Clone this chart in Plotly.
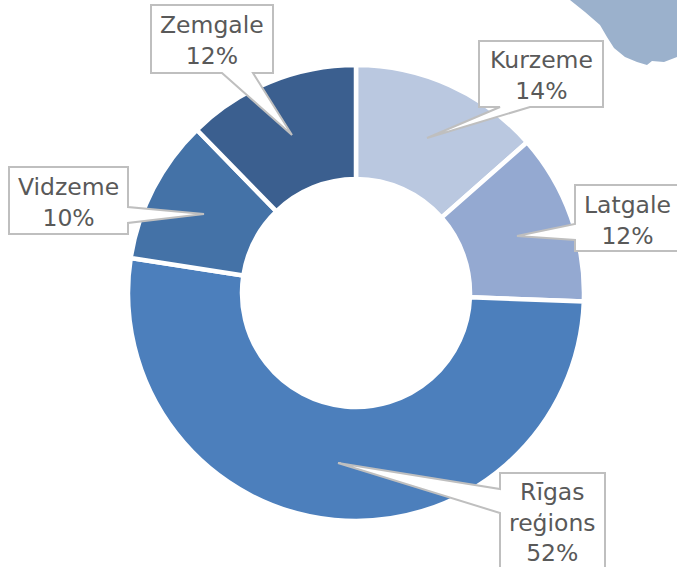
import plotly.graph_objects as go

W, H = 677, 567

categories = ["Kurzeme", "Latgale", "Rīgas<br>reģions", "Vidzeme", "Zemgale"]
shares = [13.5, 12.1, 51.85, 10.25, 12.3]
share_labels = ["14%", "12%", "52%", "10%", "12%"]
colors = ["#BAC8E0", "#94A9D1", "#4C7FBC", "#4472A7", "#3B5F8F"]

# label call-outs: outline in page pixels, and label centre
callouts = [
    ([(479,41),(603,41),(603,107),(530,107),(427,138),(500,107),(479,107)], (541,75)),
    ([(575,185),(690,185),(690,251),(575,251),(575,240),(517,236),(575,224)], (627,220)),
    ([(500,473),(605,473),(605,580),(500,580),(500,513),(338,463),(500,489)], (552,522)),
    ([(9,167),(128,167),(128,207),(204,214),(128,223),(128,234),(9,234)], (68,202)),
    ([(151,5),(273,5),(273,73),(253,73),(292,135),(222,73),(151,73)], (212,41)),
]
map_outline = [(570,0),(585,12),(600,25),(607,37),(614,48),(625,57),(637,62),(647,65),
               (652,61),(664,62),(677,57),(677,0)]


def path(points):
    return "M" + " L".join(f"{x/W:.5f},{1-y/H:.5f}" for x, y in points) + " Z"


fig = go.Figure(go.Pie(
    labels=categories, values=shares, sort=False, direction="clockwise", rotation=0,
    hole=0.5, textinfo="none", hoverinfo="label+percent", showlegend=False,
    marker=dict(colors=colors, line=dict(color="white", width=4.5)),
    domain=dict(x=[128/W, 584/W], y=[1-521/H, 1-65/H]),
))

shapes = [dict(type="path", xref="paper", yref="paper", path=path(map_outline),
               fillcolor="#9BB1CC", line=dict(width=0), layer="below")]
annotations = []
for (outline, centre), name, label in zip(callouts, categories, share_labels):
    shapes.append(dict(type="path", xref="paper", yref="paper", path=path(outline),
                       fillcolor="white", line=dict(color="#BFBFBF", width=2), layer="above"))
    annotations.append(dict(
        xref="paper", yref="paper", x=centre[0]/W, y=1-centre[1]/H,
        text=f"{name}<br>{label}", showarrow=False, align="center",
        xanchor="center", yanchor="middle", borderpad=0,
        font=dict(family="DejaVu Sans", size=23.5, color="#595959"),
    ))

fig.update_layout(width=W, height=H, margin=dict(l=0, r=0, t=0, b=0),
                  paper_bgcolor="white", plot_bgcolor="white",
                  shapes=shapes, annotations=annotations)
fig.write_html("out.html", config={"displayModeBar": False},
               post_script="document.body.style.margin='0';document.body.style.overflow='hidden';")
